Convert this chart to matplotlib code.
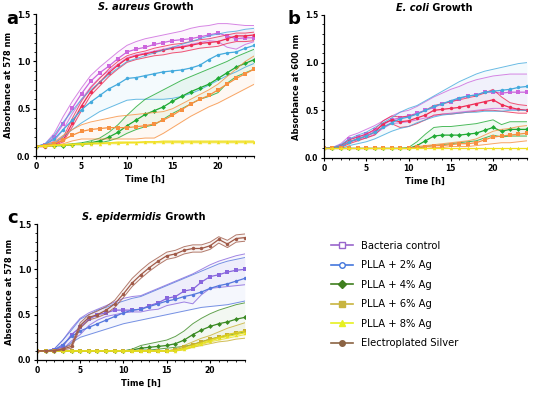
import matplotlib
matplotlib.use("Agg")
import matplotlib.pyplot as plt
from matplotlib.lines import Line2D

hours = list(range(25))

# ---- panel a: S. aureus (absorbance at 578 nm) ----
a_ctrl = [0.10, 0.12, 0.20, 0.34, 0.51, 0.66, 0.79, 0.88, 0.95, 1.03, 1.10, 1.13, 1.15, 1.18, 1.20, 1.22, 1.23, 1.24, 1.26, 1.28, 1.30, 1.27, 1.24, 1.25, 1.25]
a_ctrl_hi = [0.10, 0.13, 0.24, 0.42, 0.58, 0.72, 0.85, 0.94, 1.02, 1.10, 1.17, 1.21, 1.24, 1.26, 1.28, 1.30, 1.32, 1.35, 1.37, 1.38, 1.40, 1.40, 1.39, 1.38, 1.38]
a_ctrl_lo = [0.10, 0.11, 0.16, 0.28, 0.45, 0.60, 0.73, 0.83, 0.90, 0.97, 1.04, 1.07, 1.09, 1.11, 1.13, 1.15, 1.16, 1.18, 1.20, 1.22, 1.21, 1.15, 1.13, 1.18, 1.21]
a_red = [0.10, 0.10, 0.12, 0.17, 0.35, 0.53, 0.68, 0.78, 0.88, 0.96, 1.03, 1.06, 1.08, 1.10, 1.12, 1.14, 1.15, 1.17, 1.19, 1.20, 1.21, 1.24, 1.27, 1.27, 1.28]
a_red_hi = [0.10, 0.11, 0.13, 0.20, 0.40, 0.58, 0.72, 0.82, 0.92, 1.00, 1.06, 1.09, 1.11, 1.14, 1.16, 1.18, 1.19, 1.21, 1.23, 1.24, 1.26, 1.28, 1.30, 1.30, 1.31]
a_red_lo = [0.10, 0.10, 0.11, 0.15, 0.31, 0.48, 0.64, 0.74, 0.84, 0.92, 0.99, 1.02, 1.04, 1.06, 1.07, 1.09, 1.10, 1.12, 1.14, 1.15, 1.16, 1.19, 1.21, 1.21, 1.22]
a_blue = [0.10, 0.12, 0.18, 0.28, 0.38, 0.49, 0.57, 0.64, 0.71, 0.76, 0.82, 0.83, 0.85, 0.87, 0.89, 0.90, 0.91, 0.93, 0.96, 1.02, 1.07, 1.09, 1.10, 1.14, 1.17]
a_blue_hi = [0.10, 0.13, 0.22, 0.36, 0.48, 0.60, 0.70, 0.78, 0.86, 0.93, 1.00, 1.03, 1.06, 1.09, 1.12, 1.15, 1.18, 1.21, 1.24, 1.27, 1.29, 1.31, 1.32, 1.34, 1.35]
a_blue_lo = [0.10, 0.11, 0.14, 0.21, 0.28, 0.35, 0.41, 0.47, 0.51, 0.55, 0.59, 0.60, 0.60, 0.60, 0.60, 0.61, 0.63, 0.66, 0.70, 0.75, 0.80, 0.85, 0.89, 0.94, 0.98]
a_green = [0.10, 0.11, 0.11, 0.11, 0.12, 0.13, 0.14, 0.16, 0.20, 0.25, 0.32, 0.38, 0.44, 0.48, 0.52, 0.58, 0.63, 0.68, 0.72, 0.76, 0.82, 0.88, 0.94, 0.98, 1.02]
a_green_hi = [0.10, 0.11, 0.12, 0.12, 0.13, 0.14, 0.16, 0.19, 0.25, 0.33, 0.43, 0.52, 0.60, 0.65, 0.70, 0.75, 0.80, 0.84, 0.88, 0.92, 0.96, 1.00, 1.05, 1.09, 1.13]
a_green_lo = [0.10, 0.11, 0.11, 0.11, 0.12, 0.12, 0.13, 0.14, 0.16, 0.19, 0.24, 0.28, 0.31, 0.33, 0.39, 0.45, 0.50, 0.55, 0.60, 0.63, 0.67, 0.77, 0.84, 0.88, 0.92]
a_orange = [0.10, 0.11, 0.13, 0.17, 0.22, 0.26, 0.28, 0.29, 0.30, 0.30, 0.30, 0.31, 0.32, 0.34, 0.38, 0.43, 0.49, 0.55, 0.60, 0.64, 0.70, 0.76, 0.82, 0.87, 0.92]
a_orange_hi = [0.10, 0.12, 0.15, 0.22, 0.28, 0.33, 0.36, 0.38, 0.40, 0.42, 0.43, 0.44, 0.45, 0.46, 0.47, 0.50, 0.55, 0.60, 0.65, 0.70, 0.76, 0.84, 0.92, 1.00, 1.06]
a_orange_lo = [0.10, 0.10, 0.11, 0.13, 0.16, 0.18, 0.18, 0.18, 0.18, 0.18, 0.18, 0.18, 0.19, 0.19, 0.24, 0.30, 0.36, 0.42, 0.47, 0.52, 0.56, 0.61, 0.66, 0.71, 0.76]
a_yellow = [0.10, 0.11, 0.11, 0.12, 0.12, 0.13, 0.13, 0.13, 0.14, 0.14, 0.14, 0.14, 0.15, 0.15, 0.15, 0.15, 0.15, 0.15, 0.15, 0.15, 0.15, 0.15, 0.15, 0.15, 0.15]
a_yellow_hi = [0.10, 0.11, 0.12, 0.12, 0.13, 0.13, 0.14, 0.14, 0.14, 0.15, 0.15, 0.15, 0.15, 0.15, 0.16, 0.16, 0.16, 0.16, 0.16, 0.16, 0.16, 0.16, 0.16, 0.16, 0.16]
a_yellow_lo = [0.10, 0.10, 0.11, 0.11, 0.12, 0.12, 0.13, 0.13, 0.13, 0.13, 0.14, 0.14, 0.14, 0.14, 0.14, 0.14, 0.14, 0.14, 0.14, 0.14, 0.14, 0.14, 0.14, 0.14, 0.14]

# ---- panel b: E. coli (absorbance at 600 nm) ----
b_ctrl = [0.10, 0.10, 0.13, 0.20, 0.22, 0.25, 0.29, 0.35, 0.40, 0.42, 0.44, 0.47, 0.50, 0.53, 0.57, 0.59, 0.62, 0.65, 0.66, 0.69, 0.69, 0.68, 0.69, 0.69, 0.69]
b_ctrl_hi = [0.10, 0.11, 0.15, 0.23, 0.26, 0.30, 0.34, 0.39, 0.44, 0.48, 0.50, 0.54, 0.59, 0.64, 0.68, 0.72, 0.75, 0.79, 0.82, 0.84, 0.86, 0.87, 0.88, 0.88, 0.88]
b_ctrl_lo = [0.10, 0.10, 0.11, 0.17, 0.19, 0.21, 0.25, 0.31, 0.36, 0.37, 0.38, 0.40, 0.42, 0.44, 0.46, 0.47, 0.48, 0.49, 0.50, 0.51, 0.52, 0.52, 0.51, 0.51, 0.50]
b_red = [0.10, 0.10, 0.12, 0.17, 0.20, 0.23, 0.27, 0.36, 0.40, 0.38, 0.39, 0.42, 0.45, 0.50, 0.51, 0.52, 0.53, 0.55, 0.57, 0.59, 0.61, 0.56, 0.53, 0.51, 0.50]
b_red_hi = [0.10, 0.11, 0.13, 0.19, 0.22, 0.25, 0.30, 0.39, 0.44, 0.43, 0.44, 0.46, 0.50, 0.55, 0.57, 0.59, 0.61, 0.63, 0.65, 0.68, 0.72, 0.64, 0.58, 0.56, 0.55]
b_red_lo = [0.10, 0.10, 0.11, 0.15, 0.18, 0.21, 0.24, 0.33, 0.36, 0.32, 0.33, 0.36, 0.40, 0.45, 0.46, 0.46, 0.47, 0.48, 0.49, 0.50, 0.50, 0.49, 0.48, 0.47, 0.47]
b_blue = [0.10, 0.10, 0.12, 0.17, 0.20, 0.23, 0.27, 0.32, 0.37, 0.41, 0.43, 0.46, 0.50, 0.54, 0.57, 0.60, 0.63, 0.65, 0.66, 0.69, 0.70, 0.71, 0.72, 0.74, 0.75]
b_blue_hi = [0.10, 0.11, 0.14, 0.20, 0.24, 0.27, 0.32, 0.37, 0.42, 0.48, 0.52, 0.55, 0.60, 0.65, 0.70, 0.75, 0.80, 0.84, 0.88, 0.91, 0.93, 0.95, 0.97, 0.99, 1.00]
b_blue_lo = [0.10, 0.10, 0.10, 0.13, 0.15, 0.17, 0.20, 0.24, 0.28, 0.31, 0.33, 0.37, 0.40, 0.43, 0.45, 0.46, 0.47, 0.48, 0.48, 0.49, 0.49, 0.49, 0.50, 0.50, 0.50]
b_green = [0.10, 0.10, 0.10, 0.10, 0.10, 0.10, 0.10, 0.10, 0.10, 0.10, 0.10, 0.13, 0.18, 0.23, 0.24, 0.24, 0.24, 0.25, 0.26, 0.29, 0.32, 0.28, 0.30, 0.30, 0.30]
b_green_hi = [0.10, 0.10, 0.10, 0.10, 0.10, 0.10, 0.10, 0.10, 0.10, 0.10, 0.11, 0.17, 0.25, 0.32, 0.33, 0.33, 0.34, 0.35, 0.36, 0.38, 0.40, 0.35, 0.38, 0.38, 0.38]
b_green_lo = [0.10, 0.10, 0.10, 0.10, 0.10, 0.10, 0.10, 0.10, 0.10, 0.10, 0.10, 0.10, 0.12, 0.13, 0.14, 0.15, 0.16, 0.17, 0.18, 0.21, 0.24, 0.22, 0.23, 0.23, 0.23]
b_orange = [0.10, 0.10, 0.10, 0.10, 0.10, 0.10, 0.10, 0.10, 0.10, 0.10, 0.10, 0.11, 0.12, 0.13, 0.13, 0.14, 0.15, 0.15, 0.16, 0.19, 0.22, 0.23, 0.24, 0.25, 0.26]
b_orange_hi = [0.10, 0.10, 0.10, 0.10, 0.10, 0.10, 0.10, 0.10, 0.10, 0.10, 0.10, 0.12, 0.13, 0.14, 0.15, 0.16, 0.17, 0.18, 0.20, 0.24, 0.28, 0.30, 0.31, 0.33, 0.34]
b_orange_lo = [0.10, 0.10, 0.10, 0.10, 0.10, 0.10, 0.10, 0.10, 0.10, 0.10, 0.10, 0.10, 0.10, 0.11, 0.11, 0.12, 0.12, 0.12, 0.13, 0.14, 0.15, 0.16, 0.16, 0.17, 0.18]
b_yellow = [0.10] * 25
b_yellow_hi = [0.10] * 25
b_yellow_lo = [0.10] * 25

# ---- panel c: S. epidermidis (absorbance at 578 nm) ----
c_ctrl = [0.10, 0.10, 0.11, 0.15, 0.28, 0.36, 0.45, 0.50, 0.52, 0.55, 0.55, 0.55, 0.56, 0.60, 0.63, 0.68, 0.70, 0.76, 0.78, 0.86, 0.92, 0.94, 0.97, 0.99, 1.00]
c_ctrl_hi = [0.10, 0.10, 0.12, 0.22, 0.35, 0.46, 0.52, 0.56, 0.60, 0.64, 0.68, 0.70, 0.71, 0.75, 0.79, 0.83, 0.87, 0.91, 0.95, 1.00, 1.05, 1.09, 1.12, 1.15, 1.17]
c_ctrl_lo = [0.10, 0.10, 0.10, 0.12, 0.21, 0.28, 0.38, 0.44, 0.48, 0.50, 0.52, 0.53, 0.53, 0.55, 0.56, 0.60, 0.62, 0.64, 0.62, 0.72, 0.79, 0.80, 0.81, 0.82, 0.83]
c_2ag = [0.10, 0.10, 0.11, 0.17, 0.26, 0.32, 0.36, 0.40, 0.44, 0.48, 0.52, 0.55, 0.56, 0.59, 0.62, 0.65, 0.67, 0.70, 0.72, 0.75, 0.79, 0.82, 0.84, 0.87, 0.90]
c_2ag_hi = [0.10, 0.10, 0.12, 0.22, 0.33, 0.45, 0.50, 0.55, 0.58, 0.62, 0.65, 0.68, 0.70, 0.74, 0.78, 0.82, 0.86, 0.90, 0.94, 0.98, 1.02, 1.06, 1.09, 1.11, 1.13]
c_2ag_lo = [0.10, 0.10, 0.10, 0.12, 0.19, 0.25, 0.28, 0.31, 0.34, 0.37, 0.40, 0.42, 0.44, 0.46, 0.48, 0.50, 0.52, 0.54, 0.56, 0.58, 0.59, 0.60, 0.61, 0.63, 0.65]
c_4ag = [0.10, 0.10, 0.10, 0.10, 0.10, 0.10, 0.10, 0.10, 0.10, 0.10, 0.10, 0.11, 0.13, 0.14, 0.15, 0.16, 0.18, 0.22, 0.28, 0.33, 0.37, 0.40, 0.42, 0.45, 0.47]
c_4ag_hi = [0.10, 0.10, 0.10, 0.10, 0.10, 0.10, 0.10, 0.10, 0.10, 0.10, 0.10, 0.12, 0.16, 0.18, 0.20, 0.22, 0.26, 0.32, 0.40, 0.46, 0.51, 0.55, 0.58, 0.61, 0.63]
c_4ag_lo = [0.10, 0.10, 0.10, 0.10, 0.10, 0.10, 0.10, 0.10, 0.10, 0.10, 0.10, 0.10, 0.11, 0.11, 0.12, 0.13, 0.14, 0.15, 0.17, 0.20, 0.23, 0.25, 0.27, 0.29, 0.31]
c_6ag = [0.10, 0.10, 0.10, 0.10, 0.10, 0.10, 0.10, 0.10, 0.10, 0.10, 0.10, 0.10, 0.10, 0.10, 0.10, 0.10, 0.11, 0.14, 0.17, 0.20, 0.23, 0.25, 0.28, 0.30, 0.32]
c_6ag_hi = [0.10, 0.10, 0.10, 0.10, 0.10, 0.10, 0.10, 0.10, 0.10, 0.10, 0.10, 0.10, 0.10, 0.10, 0.10, 0.10, 0.12, 0.16, 0.20, 0.24, 0.27, 0.31, 0.35, 0.38, 0.41]
c_6ag_lo = [0.10, 0.10, 0.10, 0.10, 0.10, 0.10, 0.10, 0.10, 0.10, 0.10, 0.10, 0.10, 0.10, 0.10, 0.10, 0.10, 0.10, 0.12, 0.14, 0.16, 0.18, 0.20, 0.21, 0.23, 0.24]
c_8ag = [0.10, 0.10, 0.10, 0.10, 0.10, 0.10, 0.10, 0.10, 0.10, 0.10, 0.10, 0.10, 0.10, 0.10, 0.10, 0.10, 0.10, 0.12, 0.15, 0.18, 0.21, 0.24, 0.26, 0.28, 0.30]
c_8ag_hi = [0.10, 0.10, 0.10, 0.10, 0.10, 0.10, 0.10, 0.10, 0.10, 0.10, 0.10, 0.10, 0.10, 0.10, 0.10, 0.10, 0.11, 0.13, 0.16, 0.19, 0.22, 0.25, 0.28, 0.30, 0.32]
c_8ag_lo = [0.10, 0.10, 0.10, 0.10, 0.10, 0.10, 0.10, 0.10, 0.10, 0.10, 0.10, 0.10, 0.10, 0.10, 0.10, 0.10, 0.10, 0.11, 0.14, 0.17, 0.20, 0.22, 0.24, 0.26, 0.28]
c_elec = [0.10, 0.10, 0.10, 0.12, 0.15, 0.38, 0.47, 0.50, 0.55, 0.62, 0.73, 0.85, 0.94, 1.02, 1.09, 1.15, 1.17, 1.21, 1.23, 1.23, 1.26, 1.33, 1.28, 1.34, 1.35]
c_elec_hi = [0.10, 0.10, 0.11, 0.13, 0.17, 0.41, 0.50, 0.54, 0.59, 0.66, 0.78, 0.90, 0.99, 1.07, 1.13, 1.19, 1.21, 1.25, 1.27, 1.27, 1.30, 1.36, 1.32, 1.38, 1.39]
c_elec_lo = [0.10, 0.10, 0.10, 0.11, 0.13, 0.35, 0.44, 0.47, 0.51, 0.58, 0.69, 0.81, 0.90, 0.98, 1.05, 1.11, 1.13, 1.17, 1.19, 1.19, 1.22, 1.29, 1.24, 1.30, 1.31]

legend_labels = ['Bacteria control', 'PLLA + 2% Ag', 'PLLA + 4% Ag',
                 'PLLA + 6% Ag', 'PLLA + 8% Ag', 'Electroplated Silver']

panel_a = [
    (a_ctrl, a_ctrl_hi, a_ctrl_lo, '#cc66dd', 's'),
    (a_red, a_red_hi, a_red_lo, '#ee2c55', 'o'),
    (a_blue, a_blue_hi, a_blue_lo, '#44aadd', 'o'),
    (a_green, a_green_hi, a_green_lo, '#1faa33', 'D'),
    (a_orange, a_orange_hi, a_orange_lo, '#f79040', 's'),
    (a_yellow, a_yellow_hi, a_yellow_lo, '#f0e020', '^'),
]
panel_b = [
    (b_ctrl, b_ctrl_hi, b_ctrl_lo, '#cc66dd', 's'),
    (b_red, b_red_hi, b_red_lo, '#ee2c55', 'o'),
    (b_blue, b_blue_hi, b_blue_lo, '#44aadd', 'o'),
    (b_green, b_green_hi, b_green_lo, '#1faa33', 'D'),
    (b_orange, b_orange_hi, b_orange_lo, '#f79040', 's'),
    (b_yellow, b_yellow_hi, b_yellow_lo, '#f0e020', '^'),
]
panel_c = [
    (c_ctrl, c_ctrl_hi, c_ctrl_lo, '#8866dd', 's'),
    (c_2ag, c_2ag_hi, c_2ag_lo, '#5577dd', 'o'),
    (c_4ag, c_4ag_hi, c_4ag_lo, '#3a8a22', 'D'),
    (c_6ag, c_6ag_hi, c_6ag_lo, '#c8b030', 's'),
    (c_8ag, c_8ag_hi, c_8ag_lo, '#e6e020', '^'),
    (c_elec, c_elec_hi, c_elec_lo, '#a05a48', 'o'),
]

legend_colors = ['#9966cc', '#4477dd', '#3f7f1f', '#c8b440', '#e6f020', '#8b6343']
legend_markers = ['s', 'o', 'D', 's', '^', 'o']
legend_filled = [False, False, True, True, True, True]

plt.rc('font', family='DejaVu Sans', weight='bold')
fig = plt.figure(figsize=(5.5, 3.93), dpi=100)


def draw_panel(rect, series, ylabel, italic, italic_x):
    ax = fig.add_axes(rect)
    for mean, hi, lo, col, mk in series:
        ax.fill_between(hours, lo, hi, color=col, alpha=0.06, lw=0)
        ax.plot(hours, hi, color=col, lw=0.7, alpha=0.8)
        ax.plot(hours, lo, color=col, lw=0.7, alpha=0.8)
        ax.plot(hours, mean, color=col, lw=0.9, marker=mk, ms=2.5, mew=0)
    ax.set_xlim(0, 24)
    ax.set_ylim(0, 1.5)
    ax.set_xticks([0, 5, 10, 15, 20])
    ax.set_xticks(range(25), minor=True)
    ax.set_yticks([0.0, 0.5, 1.0, 1.5])
    ax.set_yticklabels(['0.0', '0.5', '1.0', '1.5'])
    ax.set_yticks([i / 10 for i in range(16)], minor=True)
    ax.tick_params(labelsize=5.5, length=2.5, width=0.8, pad=1.5)
    ax.tick_params(which='minor', length=1.5, width=0.6)
    for s in ['top', 'right']:
        ax.spines[s].set_visible(False)
    for s in ['left', 'bottom']:
        ax.spines[s].set_linewidth(0.9)
    ax.set_xlabel('Time [h]', fontsize=6, fontweight='bold', labelpad=3)
    ax.set_ylabel(ylabel, fontsize=6, fontweight='bold', labelpad=3)
    ax.text(italic_x, 1.05, italic, transform=ax.transAxes, ha='right', va='center',
            fontsize=7, fontstyle='italic', fontweight='bold')
    ax.text(italic_x, 1.05, ' Growth', transform=ax.transAxes, ha='left', va='center',
            fontsize=7, fontweight='bold')
    return ax


draw_panel([0.0655, 0.603, 0.397, 0.361], panel_a, 'Absorbance at 578 nm', 'S. aureus', 0.523)
draw_panel([0.589, 0.598, 0.369, 0.364], panel_b, 'Absorbance at 600 nm', 'E. coli', 0.517)
draw_panel([0.067, 0.084, 0.378, 0.346], panel_c, 'Absorbance at 578 nm', 'S. epidermidis', 0.60)

fig.text(0.012, 0.975, 'a', fontsize=13, fontweight='bold', va='top')
fig.text(0.522, 0.975, 'b', fontsize=13, fontweight='bold', va='top')
fig.text(0.014, 0.468, 'c', fontsize=13, fontweight='bold', va='top')

handles = []
for col, mk, filled in zip(legend_colors, legend_markers, legend_filled):
    handles.append(Line2D([0], [0], color=col, lw=1.2, marker=mk, ms=4,
                          markerfacecolor=col if filled else 'white', markeredgecolor=col, mew=1))
fig.legend(handles, legend_labels, loc='upper left', bbox_to_anchor=(0.585, 0.41),
           frameon=False, handlelength=2.2, labelspacing=0.95,
           prop={'weight': 'normal', 'size': 7.2})

fig.savefig('out.png', dpi=100)
